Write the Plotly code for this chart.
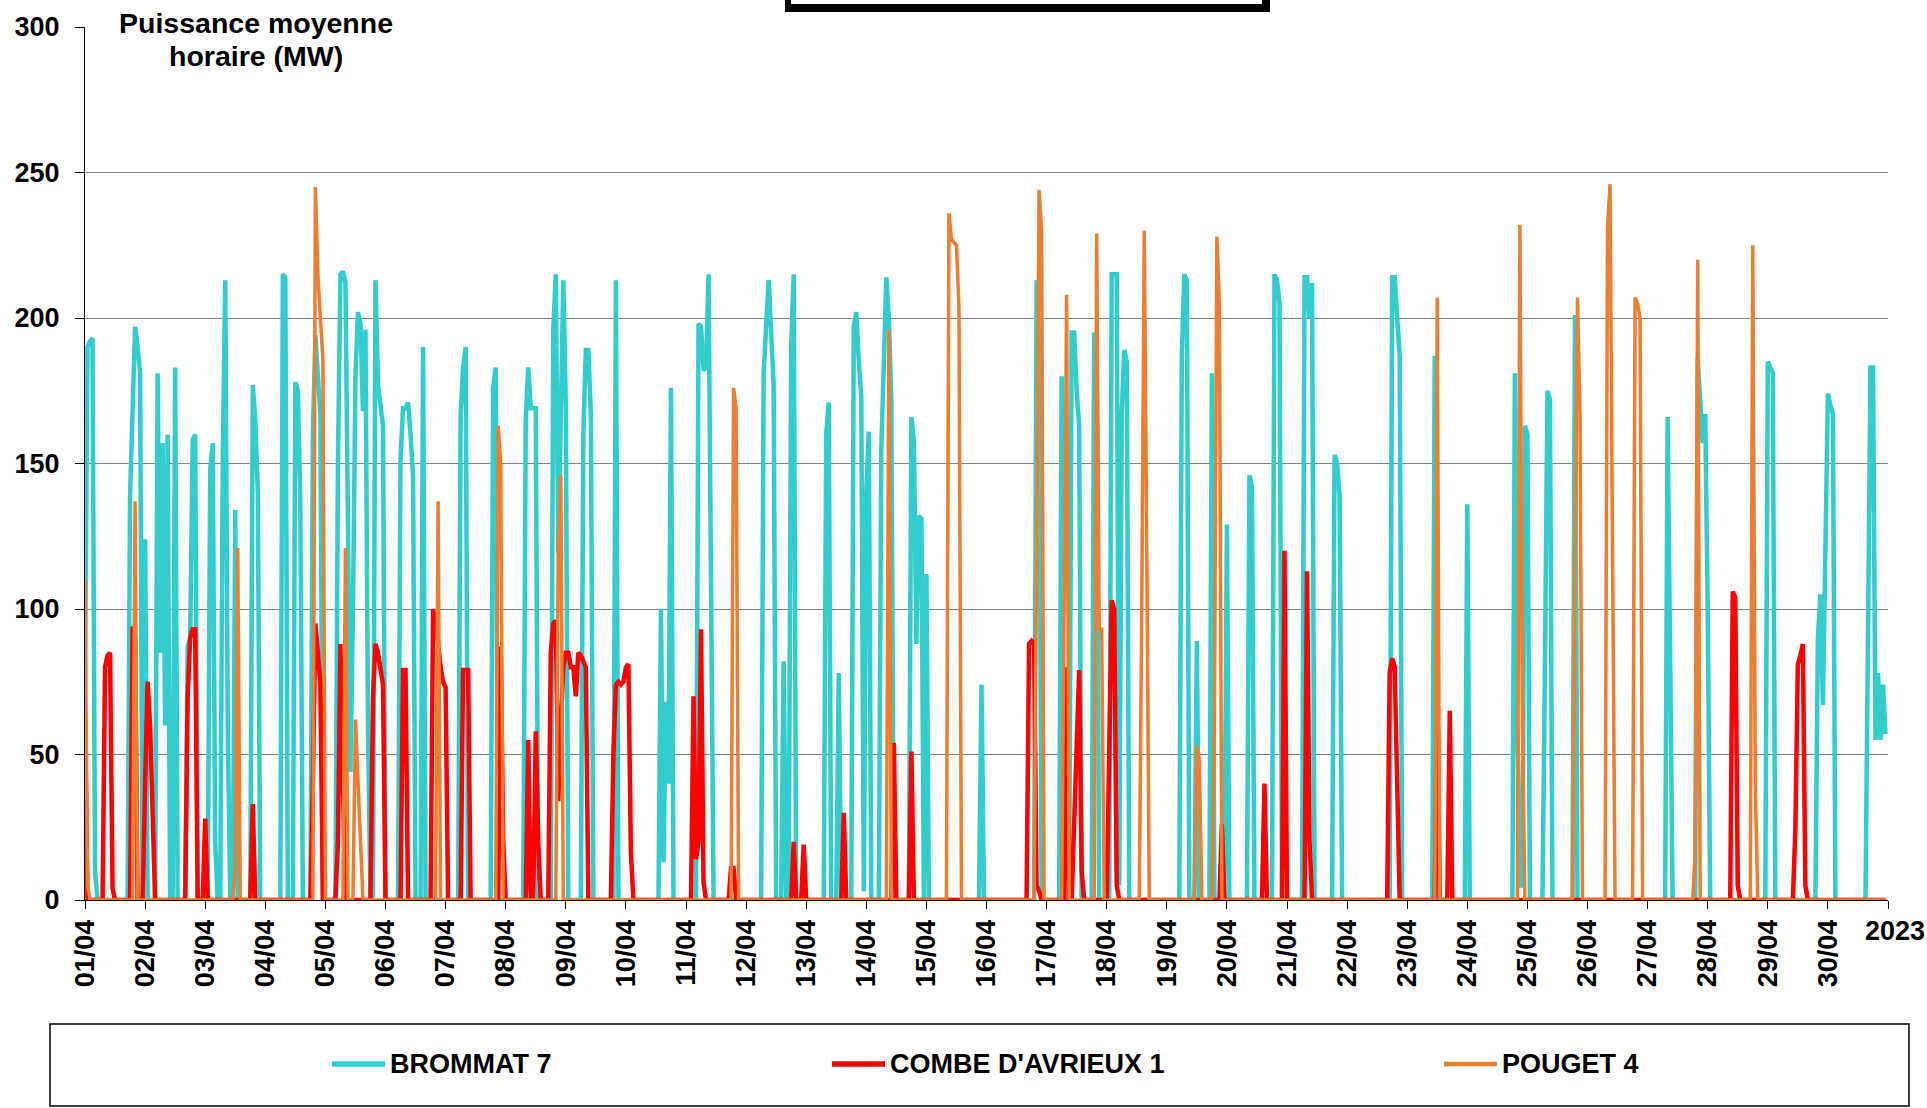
import datetime as dt
import plotly.graph_objects as go

# ---------------- data (hourly mean power, MW, April 2023) ----------------
N_HOURS = 720
START = dt.datetime(2023, 4, 1)

# (first hour index, consecutive hourly values) ; all other hours are 0
brommat_pulses = [
    (0, [74, 190, 192, 193, 10]),
    (18, [139, 170, 197, 190, 181, 0, 124]),
    (29, [181, 85, 157, 60, 160]),
    (36, [183]),
    (41, [87, 90, 158, 160]),
    (50, [148, 157, 20, 0, 0, 150, 213, 60]),
    (60, [134]),
    (67, [177, 165, 140]),
    (79, [215, 214]),
    (84, [178, 175, 136]),
    (91, [160, 194, 180, 167]),
    (101, [150, 215, 216, 212, 130, 44, 100, 180, 202, 198, 168, 196, 60]),
    (116, [213, 177, 170, 163]),
    (126, [152, 169, 169, 171, 160, 146]),
    (135, [190]),
    (150, [167, 183, 190]),
    (163, [176, 183]),
    (176, [165, 183, 169, 169, 169]),
    (187, [196, 215, 119, 170, 213, 170]),
    (199, [160, 189, 189, 167]),
    (212, [213]),
    (230, [100, 13, 68, 40, 176]),
    (245, [198, 197, 182, 183, 215, 100]),
    (271, [181, 197, 213, 195, 177]),
    (279, [82]),
    (282, [190, 215]),
    (296, [160, 171]),
    (301, [78]),
    (307, [197, 202, 185, 173, 3, 140, 161]),
    (318, [155, 190, 214, 200, 171]),
    (330, [166, 158, 88, 132, 131, 0, 112]),
    (358, [74]),
    (380, [213, 190]),
    (390, [180]),
    (394, [195, 195, 175, 163]),
    (403, [195, 180]),
    (410, [215, 215, 215, 5, 167, 189, 185]),
    (438, [187, 215, 213]),
    (444, [89]),
    (450, [181]),
    (456, [129]),
    (465, [146, 142]),
    (475, [215, 213, 205]),
    (487, [214, 214, 200, 212]),
    (499, [153, 150, 139]),
    (522, [214, 214, 200, 187]),
    (539, [187]),
    (552, [136]),
    (571, [181, 60, 5, 5, 163, 160]),
    (583, [80, 175, 172]),
    (595, [201]),
    (632, [166, 80]),
    (644, [186, 170, 157, 167, 100]),
    (672, [185, 183, 181]),
    (692, [90, 105, 67, 120, 174, 170, 167]),
    (712, [90, 183, 183, 55, 78, 55, 74, 57]),
]

combe_pulses = [
    (0, [64]),
    (8, [80, 84, 85, 4]),
    (19, [94, 90]),
    (24, [40, 75, 60, 30]),
    (41, [70, 90, 93, 93]),
    (48, [28]),
    (67, [33]),
    (91, [40, 95, 85, 74]),
    (101, [20, 88, 40]),
    (115, [70, 88, 85, 78, 74]),
    (127, [79, 79]),
    (139, [100, 95, 88, 80, 75, 73]),
    (151, [79, 79, 79]),
    (166, [87, 20]),
    (177, [55]),
    (180, [58, 20]),
    (186, [85, 95, 96, 34, 60, 80, 85, 85, 80, 80, 70, 85, 84, 82, 80]),
    (211, [50, 74, 75, 74, 75, 80, 81, 16]),
    (243, [70, 14, 20, 93, 6]),
    (258, [11, 11]),
    (283, [20]),
    (287, [19]),
    (303, [30]),
    (323, [54]),
    (330, [51]),
    (377, [88, 89, 88, 5, 3]),
    (392, [80]),
    (395, [30, 60, 79, 10]),
    (409, [50, 103, 100, 5]),
    (454, [26]),
    (471, [40]),
    (479, [120]),
    (488, [113, 20]),
    (521, [78, 83, 80, 30]),
    (540, [77]),
    (545, [65]),
    (658, [106, 104, 5]),
    (683, [24, 81, 84, 88, 5]),
]

pouget_pulses = [
    (0, [110, 5]),
    (20, [137]),
    (60, [10, 121]),
    (92, [245, 215, 200, 186]),
    (104, [121]),
    (108, [62, 40, 15]),
    (141, [137]),
    (165, [163, 150]),
    (189, [120, 146]),
    (259, [176, 169]),
    (321, [196]),
    (345, [236, 227, 226, 225, 204]),
    (380, [120, 244, 230]),
    (391, [100, 208]),
    (404, [229, 93, 93]),
    (422, [100, 230, 120]),
    (444, [53, 48]),
    (451, [60, 228, 205]),
    (540, [207]),
    (573, [232, 60]),
    (595, [120, 207, 167]),
    (608, [231, 246, 120]),
    (619, [207, 205, 200]),
    (643, [16, 220]),
    (666, [225, 40]),
]

series_names = ["BROMMAT 7", "COMBE D'AVRIEUX 1", "POUGET 4"]
series_colors = ["#33CCCC", "#FF0000", "#ED7D31"]
series_widths = [4.5, 4.5, 3.5]

day_ticks = [START + dt.timedelta(days=d) for d in range(31)]
day_labels = [t.strftime("%d/%m") for t in day_ticks[:30]] + [""]
y_ticks = [0, 50, 100, 150, 200, 250, 300]


def expand(pulses):
    vals = [0] * N_HOURS
    for first, seq in pulses:
        for i, v in enumerate(seq):
            vals[first + i] = v
    return vals


hours = [START + dt.timedelta(hours=h) for h in range(N_HOURS)]
series_values = [expand(brommat_pulses), expand(combe_pulses), expand(pouget_pulses)]

# ---------------- figure ----------------
W, H = 1927, 1108
ML, MR, MT, MB = 85, 39, 27, 208
PW, PH = W - ML - MR, H - MT - MB


def px(xp):
    return (xp - ML) / PW


def py(yp):
    return (H - MB - yp) / PH


FONT = "Liberation Sans, Arial, sans-serif"
TICK_FONT = dict(family=FONT, size=27, color="black", weight="bold")

fig = go.Figure()
for name, col, lw, vals in zip(series_names, series_colors, series_widths, series_values):
    fig.add_trace(go.Scatter(
        x=hours, y=vals, name=name, mode="lines",
        line=dict(color=col, width=lw), showlegend=False,
    ))

fig.update_layout(
    width=W, height=H,
    margin=dict(l=ML, r=MR, t=MT, b=MB, autoexpand=False),
    paper_bgcolor="white", plot_bgcolor="white",
    font=dict(family=FONT, size=27, color="black", weight="bold"),
    showlegend=False,
)
fig.update_xaxes(
    type="date",
    range=[START, START + dt.timedelta(days=30)],
    tickmode="array", tickvals=day_ticks, ticktext=day_labels,
    tickangle=-90, ticks="outside", ticklen=8, tickcolor="black",
    showline=True, linecolor="black", linewidth=1,
    showgrid=False, zeroline=False,
    tickfont=TICK_FONT,
)
fig.update_yaxes(
    range=[0, 300], tickmode="array", tickvals=y_ticks,
    ticks="outside", ticklen=9, tickcolor="black",
    showline=True, linecolor="black", linewidth=1,
    showgrid=True, gridcolor="#808080", gridwidth=1, zeroline=False,
    ticklabelstandoff=10,
    tickfont=TICK_FONT,
)

shapes = []
annotations = []

# axis title inside the plot (white background over the top gridline)
annotations.append(dict(
    xref="paper", yref="paper", x=px(256), y=py(23),
    text="Puissance moyenne", showarrow=False,
    xanchor="center", yanchor="middle", bgcolor="white", borderpad=5,
    font=dict(family=FONT, size=28.5, color="black", weight="bold"),
))
annotations.append(dict(
    xref="paper", yref="paper", x=px(256), y=py(56),
    text="horaire (MW)", showarrow=False,
    xanchor="center", yanchor="middle",
    font=dict(family=FONT, size=28.5, color="black", weight="bold"),
))

# year label at the end of the x axis
annotations.append(dict(
    xref="paper", yref="paper", x=px(1895), y=py(931),
    text="2023", showarrow=False, xanchor="center", yanchor="middle",
    font=TICK_FONT,
))

# truncated title box at the very top
shapes.append(dict(type="rect", xref="paper", yref="paper",
                   x0=px(785), x1=px(1270), y0=py(12), y1=py(-20),
                   fillcolor="black", line=dict(width=0), layer="above"))
shapes.append(dict(type="rect", xref="paper", yref="paper",
                   x0=px(791), x1=px(1262), y0=py(4), y1=py(-20),
                   fillcolor="white", line=dict(width=0), layer="above"))

# legend box
shapes.append(dict(type="rect", xref="paper", yref="paper",
                   x0=px(50), x1=px(1909), y0=py(1106), y1=py(1024),
                   line=dict(color="black", width=1.5), fillcolor="rgba(0,0,0,0)"))
legend_x = [332, 832, 1444]
for name, col, lw, lx in zip(series_names, series_colors, series_widths, legend_x):
    shapes.append(dict(type="line", xref="paper", yref="paper",
                       x0=px(lx), x1=px(lx + 53), y0=py(1064), y1=py(1064),
                       line=dict(color=col, width=lw + 1)))
    annotations.append(dict(
        xref="paper", yref="paper", x=px(lx + 56), y=py(1064),
        text=name, showarrow=False, xanchor="left", yanchor="middle",
        font=TICK_FONT,
    ))

fig.update_layout(shapes=shapes, annotations=annotations)
fig.write_html(
    "out.html",
    config={"displayModeBar": False},
    post_script="document.body.style.margin='0';document.body.style.overflow='hidden';",
)
